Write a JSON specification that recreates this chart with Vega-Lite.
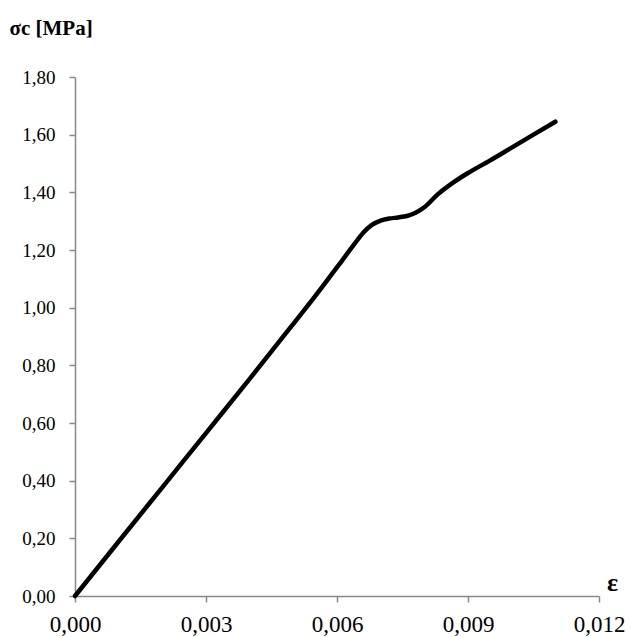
{
  "$schema": "https://vega.github.io/schema/vega-lite/v6.json",
  "width": 524,
  "height": 519,
  "autosize": "none",
  "padding": {"left": 75, "top": 77, "right": 32, "bottom": 41},
  "background": "white",
  "config": {
    "view": {"stroke": null},
    "font": "Liberation Serif",
    "locale": {"number": {"decimal": ",", "thousands": ".", "grouping": [3], "currency": ["", " €"]}}
  },
  "data": {
    "values": [
      {"eps": 0.0, "sigma": 0.0},
      {"eps": 0.001, "sigma": 0.189},
      {"eps": 0.002, "sigma": 0.377},
      {"eps": 0.003, "sigma": 0.565},
      {"eps": 0.004, "sigma": 0.753},
      {"eps": 0.005, "sigma": 0.944},
      {"eps": 0.0055, "sigma": 1.04},
      {"eps": 0.0058, "sigma": 1.1},
      {"eps": 0.0061, "sigma": 1.16},
      {"eps": 0.0064, "sigma": 1.221},
      {"eps": 0.0066, "sigma": 1.26},
      {"eps": 0.0068, "sigma": 1.287},
      {"eps": 0.007, "sigma": 1.302},
      {"eps": 0.0072, "sigma": 1.309},
      {"eps": 0.0074, "sigma": 1.313},
      {"eps": 0.0076, "sigma": 1.318},
      {"eps": 0.0078, "sigma": 1.329},
      {"eps": 0.008, "sigma": 1.348},
      {"eps": 0.0083, "sigma": 1.392},
      {"eps": 0.0087, "sigma": 1.438},
      {"eps": 0.009, "sigma": 1.467},
      {"eps": 0.0095, "sigma": 1.51},
      {"eps": 0.01, "sigma": 1.555},
      {"eps": 0.0105, "sigma": 1.6},
      {"eps": 0.011, "sigma": 1.645}
    ]
  },
  "mark": {"type": "line", "color": "black", "strokeWidth": 4.5, "interpolate": "monotone", "strokeCap": "round"},
  "encoding": {
    "x": {
      "field": "eps",
      "type": "quantitative",
      "scale": {"domain": [0, 0.012], "nice": false, "zero": true},
      "axis": {
        "values": [0, 0.003, 0.006, 0.009, 0.012],
        "format": ".3f",
        "grid": false,
        "domainColor": "#888888",
        "domainWidth": 1.5,
        "tickColor": "#888888",
        "tickWidth": 1.5,
        "tickSize": 6,
        "labelFont": "Liberation Serif",
        "labelFontSize": 23,
        "labelColor": "black",
        "labelPadding": 11,
        "labelFlush": false,
        "title": "ε",
        "titleFont": "Liberation Serif",
        "titleFontSize": 26,
        "titleFontWeight": "bold",
        "titleColor": "black",
        "titleX": 537,
        "titleY": -6,
        "titleAlign": "center",
        "titleBaseline": "alphabetic",
        "titleAngle": 0
      }
    },
    "y": {
      "field": "sigma",
      "type": "quantitative",
      "scale": {"domain": [0, 1.8], "nice": false},
      "axis": {
        "values": [0, 0.2, 0.4, 0.6, 0.8, 1.0, 1.2, 1.4, 1.6, 1.8],
        "format": ".2f",
        "grid": false,
        "domainColor": "#888888",
        "domainWidth": 1.5,
        "tickColor": "#888888",
        "tickWidth": 1.5,
        "tickSize": 6,
        "labelFont": "Liberation Serif",
        "labelFontSize": 19,
        "labelColor": "black",
        "labelPadding": 14,
        "labelFlush": false,
        "title": "σc [MPa]",
        "titleFont": "Liberation Serif",
        "titleFontSize": 21,
        "titleFontWeight": "bold",
        "titleColor": "black",
        "titleAngle": 0,
        "titleX": -66,
        "titleY": -43,
        "titleAlign": "left",
        "titleBaseline": "alphabetic"
      }
    }
  }
}
